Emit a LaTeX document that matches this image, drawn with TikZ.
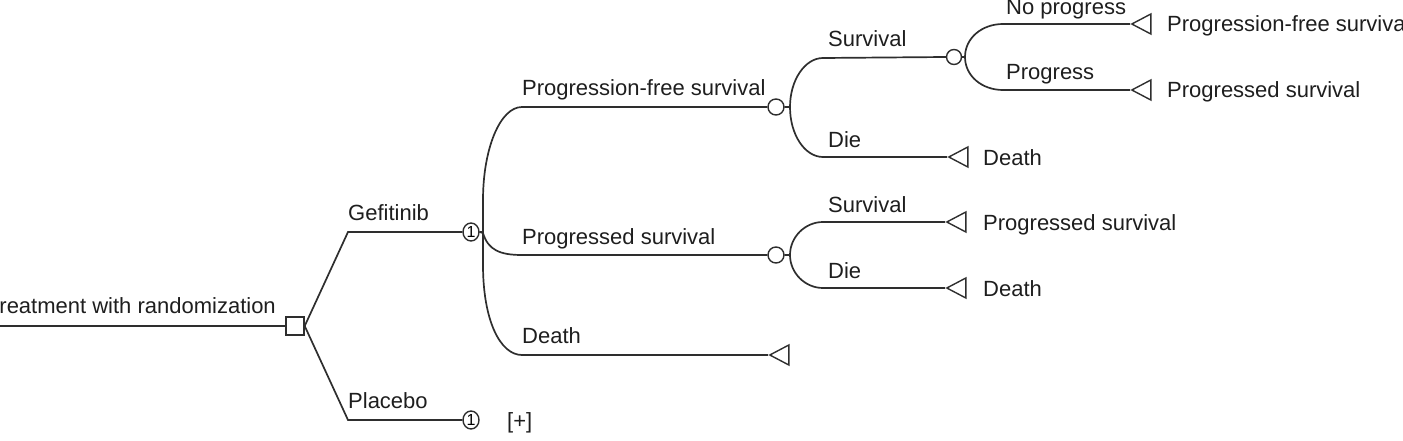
\documentclass[tikz,border=0pt]{standalone}
\usepackage{fontspec}
\setmainfont{Liberation Sans}
\usetikzlibrary{shapes.geometric}
\definecolor{ink}{HTML}{2E2E2E}
\definecolor{txt}{HTML}{1E1E1E}
\begin{document}
\begin{tikzpicture}[x=1pt,y=-1pt,
  branch/.style={draw=ink, line width=1.7pt},
  decision/.style={draw=ink, line width=1.4pt, rectangle, minimum size=18pt, inner sep=0pt},
  chance/.style={draw=ink, line width=1.4pt, circle, minimum size=16pt, inner sep=0pt},
  markov/.style={chance, ellipse, minimum width=16pt, minimum height=18pt, font=\fontsize{16}{16}\selectfont},
  terminal/.style={draw=ink, line width=1.4pt, isosceles triangle, shape border rotate=180,
    isosceles triangle stretches, minimum width=20pt, minimum height=19pt, inner sep=0pt, anchor=apex},
  lbl/.style={text=txt, font=\fontsize{22}{26}\selectfont, inner sep=0pt, anchor=base west},
]
\useasboundingbox (0,0) rectangle (1403,441);

% nodes
\coordinate (root) at (0,326);
\node[decision] (dec) at (295,326) {};
\node[markov] (gef) at (471,232) {1};
\node[markov] (plac) at (471,420) {1};
\node[chance] (c1) at (776,107) {};
\node[chance] (c2) at (776,255) {};
\node[chance, minimum size=15pt] (c3) at (954,57) {};
\node[terminal] (t1) at (1130,24) {};
\node[terminal] (t2) at (1130,90) {};
\node[terminal] (t3) at (947,157) {};
\node[terminal] (t4) at (945,222) {};
\node[terminal] (t5) at (945,288) {};
\node[terminal] (t6) at (768,355) {};

% connectors
\draw[branch] (root) -- (dec.west);
\draw[branch] (dec.east) -- (348,232) -- (gef.west);
\draw[branch] (dec.east) -- (348,420) -- (plac.west);

\draw[branch] (gef.east) -- (483,232) -- (483,200) .. controls (483,149) and (500,107) .. (522,107) -- (c1.west);
\draw[branch] (gef.east) -- (483,233) .. controls (488,250) and (500,255) .. (522,255) -- (c2.west);
\draw[branch] (gef.east) -- (483,232) -- (483,265) .. controls (483,320) and (500,355) .. (522,355) -- (t6.apex);

\draw[branch] (c1.east) -- (790,107) .. controls (790,80) and (805,58) .. (823,58) -- (c3.west);
\draw[branch] (c1.east) -- (790,107) .. controls (790,135) and (805,157) .. (823,157) -- (t3.apex);

\draw[branch] (c2.east) -- (790,255) .. controls (790,237) and (805,222) .. (823,222) -- (t4.apex);
\draw[branch] (c2.east) -- (790,255) .. controls (790,273) and (805,288) .. (823,288) -- (t5.apex);

\draw[branch] (c3.east) -- (965,57) .. controls (965,38) and (982,24) .. (1003,24) -- (t1.apex);
\draw[branch] (c3.east) -- (965,57) .. controls (965,76) and (982,90) .. (1003,90) -- (t2.apex);

% branch labels
\node[lbl] (lroot) at (-13.4,313) {Treatment with randomization};
\node[lbl] (lgef) at (348,220) {Gefitinib};
\node[lbl] (lplac) at (348,408) {Placebo};
\node[lbl] (lplus) at (507,428) {[+]};
\node[lbl] (lpfs) at (522,96) {Progression-free survival};
\node[lbl] (lps) at (522,244) {Progressed survival};
\node[lbl] (ldeath) at (522,343) {Death};
\node[lbl] (ls1) at (828,47) {Survival};
\node[lbl] (ld1) at (828,147) {Die};
\node[lbl] (ls2) at (828,212) {Survival};
\node[lbl] (ld2) at (828,278) {Die};
\node[lbl] (lnp) at (1006,15) {No progress};
\node[lbl] (lpr) at (1006,80) {Progress};

% terminal labels
\node[lbl] (e1) at (1167,32) {Progression-free survival};
\node[lbl] (e2) at (1167,98) {Progressed survival};
\node[lbl] (e3) at (983,165) {Death};
\node[lbl] (e4) at (983,230) {Progressed survival};
\node[lbl] (e5) at (983,296) {Death};
\end{tikzpicture}
\end{document}
